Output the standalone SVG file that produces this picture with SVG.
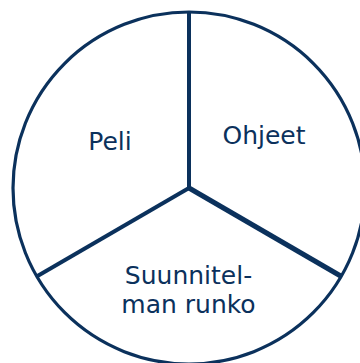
<svg xmlns="http://www.w3.org/2000/svg" width="360" height="363" viewBox="0 0 360 363">
<style>
.ln{stroke:#0b315c;fill:none;stroke-linecap:butt}
.t{font-family:"DejaVu Sans",sans-serif;font-size:25px;fill:#0b315c;text-anchor:middle}
</style>
<rect width="360" height="363" fill="#fff"/>
<g id="connectors">
<circle class="ln" cx="189" cy="188" r="176" stroke-width="3.2"/>
<line class="ln" x1="189" y1="12" x2="189" y2="188" stroke-width="4"/>
<line class="ln" x1="189" y1="188" x2="37.5" y2="276" stroke-width="4"/>
<line class="ln" x1="189" y1="188" x2="341.5" y2="276.5" stroke-width="5"/>
</g>
<g id="peli"><text class="t" x="110" y="150">Peli</text></g>
<g id="ohjeet"><text class="t" x="264" y="144">Ohjeet</text></g>
<g id="runko"><text class="t" x="188.5" y="284">Suunnitel-</text><text class="t" x="188.5" y="313">man runko</text></g>
</svg>
